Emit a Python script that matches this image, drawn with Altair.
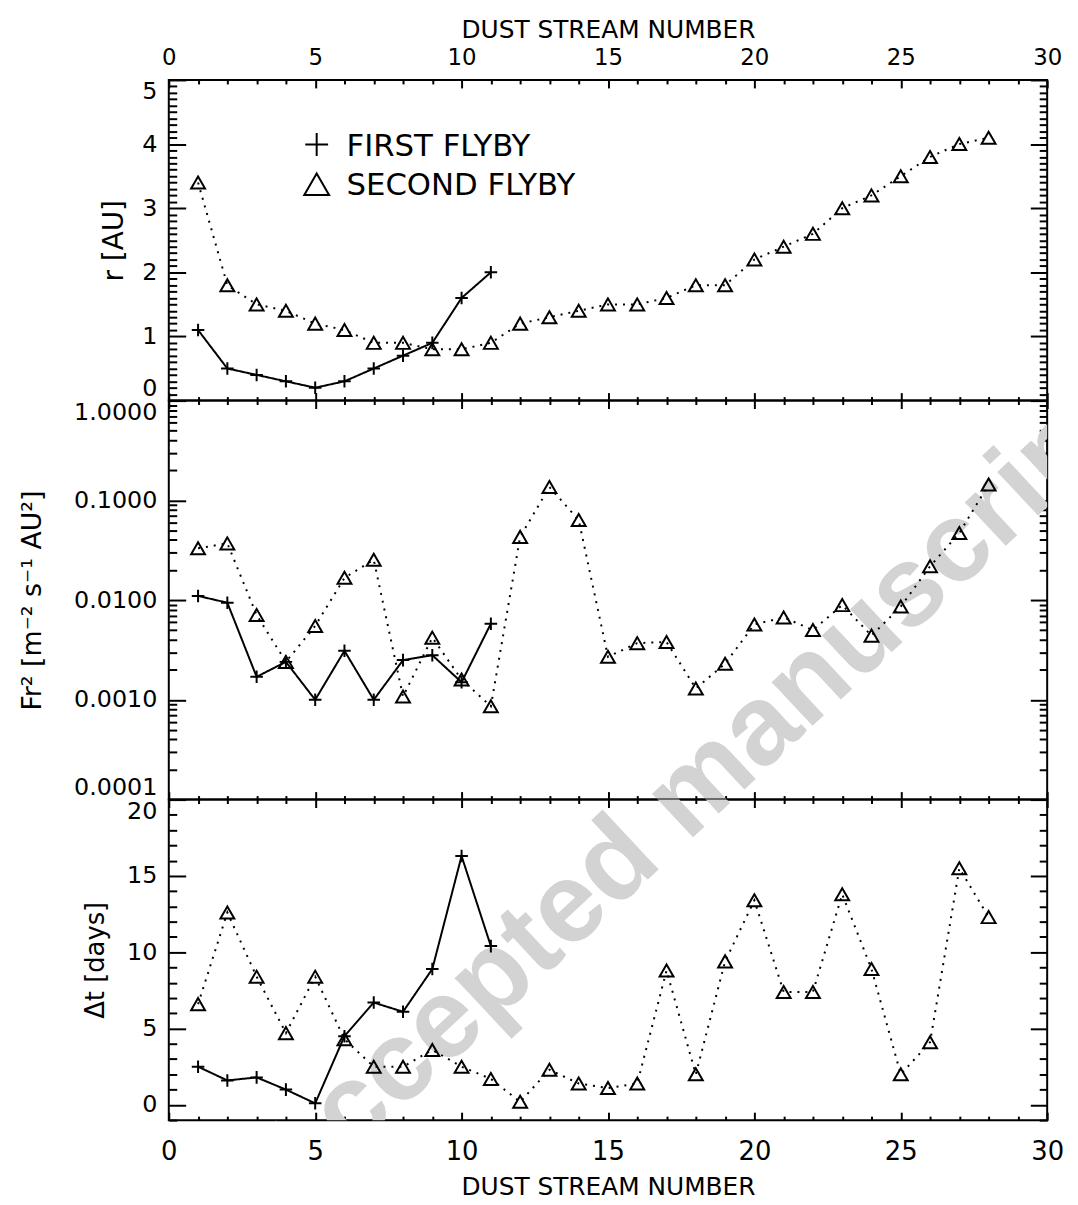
import altair as alt
import pandas as pd

# ---------------- data ----------------
STREAMS_FIRST = list(range(1, 12))
STREAMS_SECOND = list(range(1, 29))

R_FIRST = [1.1, 0.5, 0.4, 0.3, 0.2, 0.3, 0.5, 0.7, 0.9, 1.6, 2.0]
R_SECOND = [3.4, 1.8, 1.5, 1.4, 1.2, 1.1, 0.9, 0.9, 0.8, 0.8, 0.9, 1.2, 1.3, 1.4,
            1.5, 1.5, 1.6, 1.8, 1.8, 2.2, 2.4, 2.6, 3.0, 3.2, 3.5, 3.8, 4.0, 4.1]

F_FIRST = [0.011, 0.0094, 0.0017, 0.0024, 0.0010, 0.0031, 0.0010, 0.0025, 0.0028,
           0.0015, 0.0058]
F_SECOND = [0.033, 0.037, 0.0071, 0.0024, 0.0055, 0.0167, 0.0254, 0.00108, 0.0042,
            0.0016, 0.00086, 0.043, 0.136, 0.0635, 0.0027, 0.0037, 0.0038, 0.0013,
            0.0023, 0.0057, 0.0067, 0.0050, 0.0089, 0.0044, 0.0086, 0.0218, 0.047,
            0.144]

DT_FIRST = [2.5, 1.6, 1.8, 1.0, 0.1, 4.5, 6.7, 6.1, 8.9, 16.3, 10.4]
DT_SECOND = [6.6, 12.6, 8.4, 4.7, 8.4, 4.3, 2.5, 2.5, 3.6, 2.5, 1.7, 0.2, 2.3, 1.4,
             1.1, 1.4, 8.8, 2.0, 9.4, 13.4, 7.4, 7.4, 13.8, 8.9, 2.0, 4.1, 15.5, 12.3]

FLYBY_LABELS = ["FIRST FLYBY", "SECOND FLYBY"]
X_TITLE = "DUST  STREAM  NUMBER"
Y_TITLES = ["r [AU]", "Fr² [m⁻² s⁻¹ AU²]", "Δt  [days]"]
WATERMARK = "Accepted manuscript"

X_MAJOR = [0, 5, 10, 15, 20, 25, 30]
X_MINOR = [i for i in range(0, 31) if i % 5]
R_MAJOR = [0, 1, 2, 3, 4, 5]
R_MINOR = [round(i * 0.1, 1) for i in range(51) if i % 10]
F_MAJOR = [0.0001, 0.001, 0.01, 0.1, 1.0]
F_MINOR = [k * 10.0 ** e for e in (-4, -3, -2, -1) for k in range(2, 10)]
DT_LABELS = [0, 5, 10, 15, 20]
DT_MINOR = [i for i in range(-1, 21) if i % 5]

# ---------------- style ----------------
FONT = "DejaVu Sans"
PLOT_W = 885
H_TOP, H_MID, H_BOT = 323, 402, 323
CROSS = "M-1,0L1,0M0,-1L0,1"
SHAPES = [CROSS, "triangle-up"]
WM_X = 124


def long_df(first, second):
    return pd.DataFrame({
        "stream": STREAMS_FIRST + STREAMS_SECOND,
        "val": first + second,
        "flyby": [FLYBY_LABELS[0]] * len(first) + [FLYBY_LABELS[1]] * len(second),
    })


def tick_axis(orient, values, size):
    return alt.Axis(orient=orient, values=values, tickSize=size, offset=-size,
                    domain=False, labels=False, grid=False, title=None,
                    ticks=True, tickColor="black", tickWidth=2)


def label_axis(orient, values, fmt, pad, fsize, flush, title=None, title_pad=0,
               title_size=24):
    kw = dict(orient=orient, values=values, format=fmt, ticks=False, tickSize=0,
              domain=False, grid=False, labelPadding=pad, labelFontSize=fsize,
              labelFont=FONT, labelColor="black", labelFlush=flush,
              labelOverlap=False)
    if title:
        kw.update(title=title, titlePadding=title_pad, titleFontSize=title_size,
                  titleFont=FONT, titleFontWeight="normal", titleColor="black")
    else:
        kw["title"] = None
    return alt.Axis(**kw)


xscale = alt.Scale(domain=[0, 30], nice=False, zero=False)
dash_scale = alt.Scale(domain=FLYBY_LABELS, range=[[1, 0], [2, 6]])


def legend_layers():
    out = []
    rows = [(65, 77, 529), (105, 116, 625)]
    for i, (ysym, ytxt, sz) in enumerate(rows):
        src = alt.Chart(pd.DataFrame({"label": [FLYBY_LABELS[i]]}))
        out.append(src.mark_point(shape=SHAPES[i], size=sz, filled=False,
                                  strokeWidth=2, color="black", opacity=1).encode(
            x=alt.value(149), y=alt.value(ysym)))
        out.append(src.mark_text(align="left", baseline="alphabetic", font=FONT,
                                 fontSize=31, color="black").encode(
            text="label:N", x=alt.value(179), y=alt.value(ytxt)))
    return out


def panel(df, yscale, ymaj, ymin, ylab, xlab, height, wm_y, with_legend):
    base = alt.Chart(df)

    def X(axis):
        return alt.X("stream:Q", scale=xscale, axis=axis)

    def Y(axis):
        return alt.Y("val:Q", scale=yscale, axis=axis)

    inv = base.mark_point(opacity=0)
    wm = alt.Chart(pd.DataFrame({"txt": [WATERMARK]})).mark_text(
        clip=True, angle=317, align="left", baseline="alphabetic",
        font="Liberation Sans", fontWeight="bold", fontSize=114, color="#d3d3d3"
    ).encode(text="txt:N", x=alt.value(WM_X), y=alt.value(wm_y))

    layers = [
        wm,
        inv.encode(x=X(tick_axis("top", X_MAJOR, 8)), y=Y(tick_axis("left", ymaj, 17))),
        inv.encode(x=X(tick_axis("top", X_MINOR, 4)), y=Y(tick_axis("left", ymin, 8))),
        inv.encode(x=X(tick_axis("bottom", X_MAJOR, 8)), y=Y(tick_axis("right", ymaj, 17))),
        inv.encode(x=X(tick_axis("bottom", X_MINOR, 4)), y=Y(tick_axis("right", ymin, 8))),
        inv.encode(x=X(xlab), y=Y(ylab)),
        base.mark_line(strokeWidth=2, color="black").encode(
            x=X(None), y=Y(None), detail="flyby:N",
            strokeDash=alt.StrokeDash("flyby:N", scale=dash_scale, legend=None)),
        base.transform_filter(alt.datum.flyby == FLYBY_LABELS[0]).mark_point(
            shape=SHAPES[0], filled=False, size=160, strokeWidth=2, color="black",
            opacity=1).encode(x=X(None), y=Y(None)),
        base.transform_filter(alt.datum.flyby == FLYBY_LABELS[1]).mark_point(
            shape=SHAPES[1], filled=False, size=196, strokeWidth=2, color="black",
            opacity=1).encode(x=X(None), y=Y(None)),
    ]
    if with_legend:
        layers += legend_layers()
    return alt.layer(*layers).resolve_axis(x="independent", y="independent").properties(
        width=PLOT_W, height=height)


top = panel(
    long_df(R_FIRST, R_SECOND),
    alt.Scale(domain=[0, 5], nice=False, zero=False),
    R_MAJOR, R_MINOR,
    label_axis("left", R_MAJOR, "d", 12, 24, True, Y_TITLES[0], 13, 28),
    label_axis("top", X_MAJOR, "d", 10.5, 23, False, X_TITLE, 4, 25),
    H_TOP, 1140, True)

mid = panel(
    long_df(F_FIRST, F_SECOND),
    alt.Scale(type="log", domain=[0.0001, 1.0], nice=False),
    F_MAJOR, F_MINOR,
    label_axis("left", F_MAJOR, ".4f", 12, 24, True, Y_TITLES[1], 27, 27),
    None,
    H_MID, 817, False)

bot = panel(
    long_df(DT_FIRST, DT_SECOND),
    alt.Scale(domain=[-1, 20], nice=False, zero=False),
    DT_LABELS, DT_MINOR,
    label_axis("left", DT_LABELS, "d", 12, 24, True, Y_TITLES[2], 18, 26),
    label_axis("bottom", X_MAJOR, "d", 18.5, 26, False, X_TITLE, 10, 25),
    H_BOT, 415, False)

chart = alt.vconcat(top, mid, bot, spacing=0, bounds="flush").resolve_scale(
    x="independent", y="independent", strokeDash="independent"
).properties(
    padding={"left": 10, "top": 4, "right": 5, "bottom": 2},
    background="white",
).configure_view(stroke="black", strokeWidth=2)

chart.save("out.html", embed_options={"renderer": "svg", "actions": False})
